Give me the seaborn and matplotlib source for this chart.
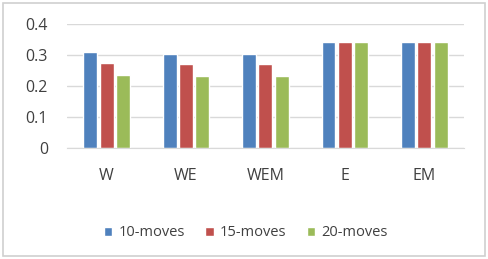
import numpy as np
import pandas as pd
import seaborn as sns
import matplotlib
matplotlib.use('Agg')
import matplotlib.pyplot as plt
from matplotlib.patches import Rectangle

categories = ['W', 'WE', 'WEM', 'E', 'EM']
series = ['10-moves', '15-moves', '20-moves']
moves10 = [0.310, 0.305, 0.305, 0.341, 0.341]
moves15 = [0.274, 0.271, 0.271, 0.341, 0.341]
moves20 = [0.237, 0.234, 0.234, 0.341, 0.341]
colors = ['#4F81BD', '#C0504D', '#9BBB59']

df = pd.DataFrame({
    'cat': categories * 3,
    'series': np.repeat(series, len(categories)),
    'value': moves10 + moves15 + moves20,
})

sns.set_style('white')
plt.rcParams['font.family'] = ['Open Sans', 'DejaVu Sans']
text_col = '#404040'

fig = plt.figure(figsize=(4.88, 2.59), dpi=100)
ax = fig.add_axes([0.137, 0.427, 0.814, 0.48])
sns.barplot(data=df, x='cat', y='value', hue='series', palette=colors,
            width=0.62, gap=0.15, ax=ax, legend=True, saturation=1)

ax.set_ylim(0, 0.4)
ax.set_yticks([0, 0.1, 0.2, 0.3, 0.4])
ax.set_yticklabels(['0', '0.1', '0.2', '0.3', '0.4'])
ax.yaxis.grid(True, color='#D9D9D9', linewidth=1)
ax.set_axisbelow(True)
for s in ['top', 'right', 'left']:
    ax.spines[s].set_visible(False)
ax.spines['bottom'].set_color('#D9D9D9')
ax.tick_params(axis='both', length=0, labelsize=11.5, colors=text_col)
ax.tick_params(axis='y', pad=13.5)
ax.tick_params(axis='x', pad=14)
ax.set_xlabel('')
ax.set_ylabel('')

ax.legend(loc='center', bbox_to_anchor=(0.45, -0.68), ncol=3, frameon=False,
          fontsize=10.5, handlelength=0.6, handleheight=0.6, handletextpad=0.4,
          columnspacing=1.4, labelcolor=text_col)

fig.patches.append(Rectangle((0.006, 0.012), 0.988, 0.976, transform=fig.transFigure,
                             fill=False, edgecolor='#D0D0D0', linewidth=1.2))

fig.savefig('out.png', dpi=100)
